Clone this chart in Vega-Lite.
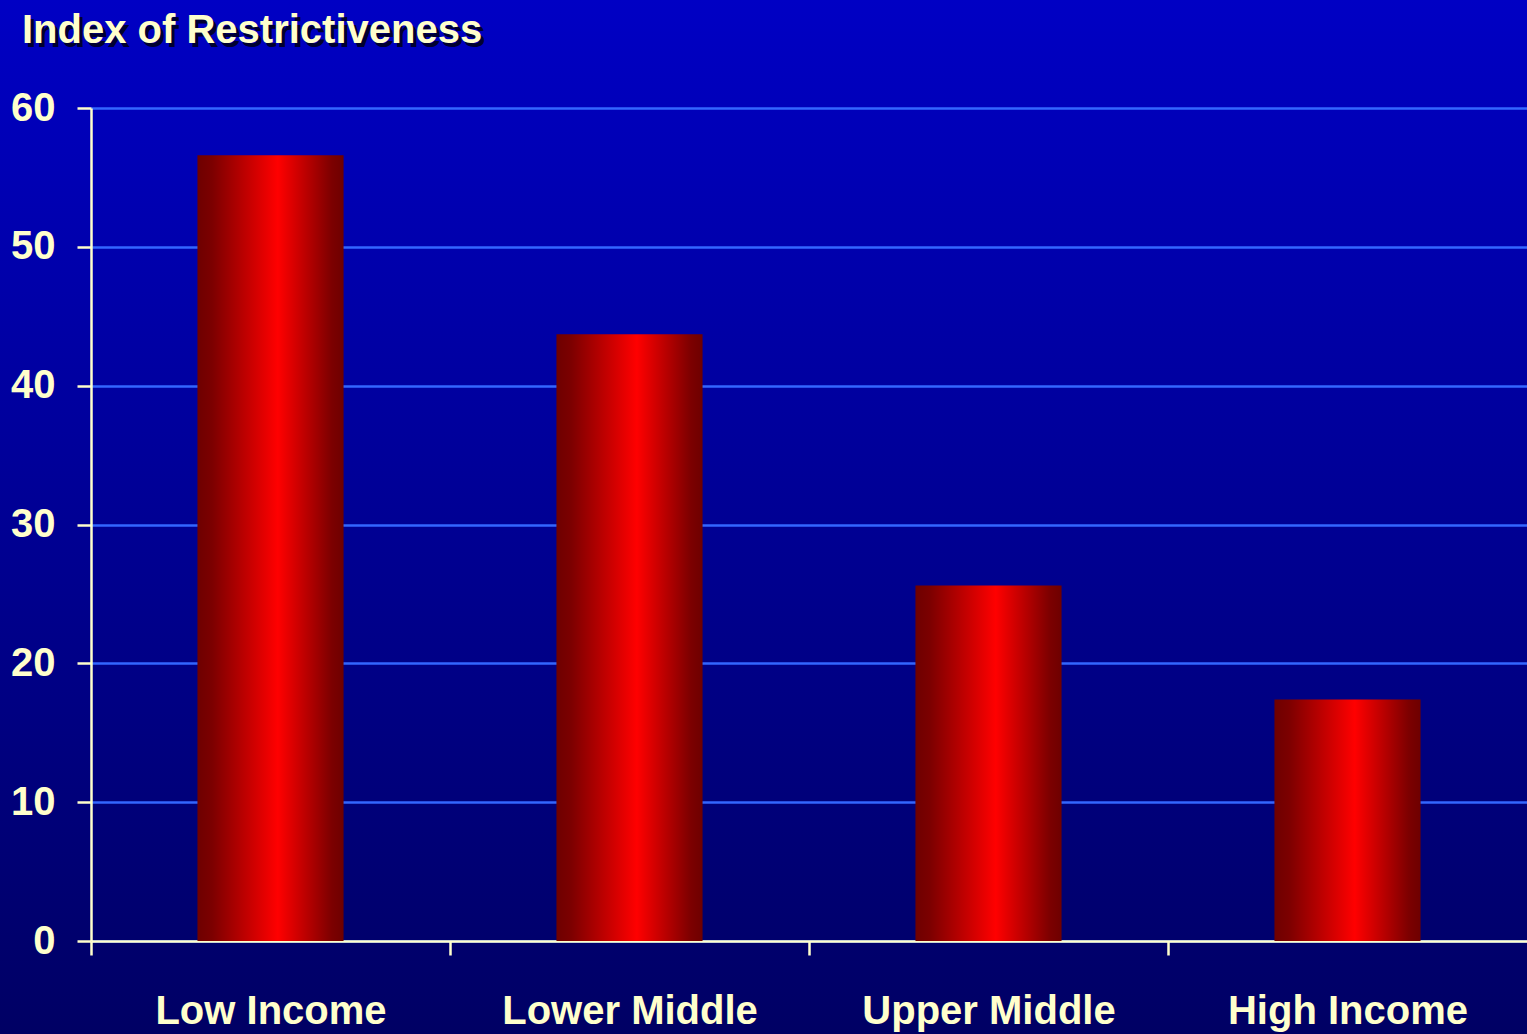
{
  "$schema": "https://vega.github.io/schema/vega-lite/v6.json",
  "width": 1527,
  "height": 1034,
  "autosize": {"type": "none"},
  "padding": 0,
  "background": "#000080",
  "config": {
    "view": {
      "stroke": null,
      "fill": {
        "gradient": "linear",
        "x1": 0, "y1": 0, "x2": 0, "y2": 1,
        "stops": [
          {"offset": 0, "color": "#0000c4"},
          {"offset": 1, "color": "#000064"}
        ]
      }
    },
    "font": "Liberation Sans"
  },
  "title": {
    "text": "Index of Restrictiveness",
    "anchor": "start",
    "frame": "group",
    "offset": -51,
    "dx": 22,
    "fontSize": 40,
    "font": "Liberation Sans",
    "fontWeight": "bold",
    "color": "#ffffcc"
  },
  "data": {
    "values": [
      {"group": "Low Income", "index": 56.6},
      {"group": "Lower Middle", "index": 43.7},
      {"group": "Upper Middle", "index": 25.6},
      {"group": "High Income", "index": 17.4}
    ]
  },
  "mark": {
    "type": "bar",
    "fill": {
      "gradient": "linear",
      "x1": 0, "y1": 0, "x2": 1, "y2": 0,
      "stops": [
        {"offset": 0, "color": "#6e0000"},
        {"offset": 0.1, "color": "#7c0000"},
        {"offset": 0.55, "color": "#ff0000"},
        {"offset": 0.92, "color": "#7c0000"},
        {"offset": 1, "color": "#6e0000"}
      ]
    }
  },
  "encoding": {
    "x": {
      "field": "group",
      "type": "nominal",
      "sort": null,
      "scale": {"range": [91, 1527], "paddingInner": 0.593, "paddingOuter": 0.2965},
      "axis": {
        "orient": "bottom",
        "offset": -93,
        "title": null,
        "grid": false,
        "labelAngle": 0,
        "labelLimit": 0,
        "domainColor": "#ffffcc",
        "domainWidth": 2.5,
        "bandPosition": 0,
        "tickOffset": -106.5,
        "labelOffset": 106.5,
        "tickColor": "#ffffcc",
        "tickWidth": 2.5,
        "tickSize": 14,
        "labelColor": "#ffffcc",
        "labelFont": "Liberation Sans",
        "labelFontWeight": "bold",
        "labelFontSize": 40,
        "labelPadding": 36
      }
    },
    "y": {
      "field": "index",
      "type": "quantitative",
      "scale": {"domain": [0, 60], "range": [941, 108], "nice": false},
      "axis": {
        "orient": "left",
        "offset": -91,
        "title": "Index of Restrictiveness",
        "titleFont": "Liberation Sans",
        "titleFontWeight": "bold",
        "titleFontSize": 40,
        "titleColor": "#000030",
        "titleAngle": 0,
        "titleAlign": "left",
        "titleBaseline": "alphabetic",
        "titleX": -66,
        "titleY": 46,
        "values": [0, 10, 20, 30, 40, 50, 60],
        "domainColor": "#ffffcc",
        "domainWidth": 2.5,
        "tickColor": "#ffffcc",
        "tickWidth": 2.5,
        "tickSize": 14,
        "labelColor": "#ffffcc",
        "labelFont": "Liberation Sans",
        "labelFontWeight": "bold",
        "labelFontSize": 40,
        "labelPadding": 22,
        "grid": true,
        "gridColor": "#3366ff",
        "gridWidth": 2.5
      }
    }
  }
}
